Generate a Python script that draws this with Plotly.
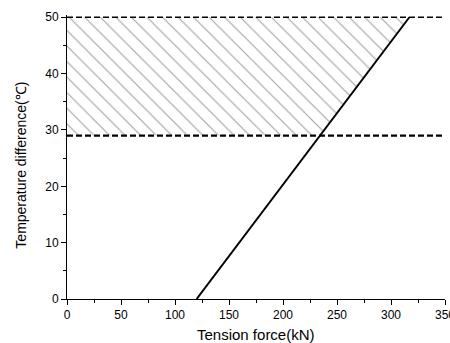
import plotly.graph_objects as go

# Data
line_x = [120, 317]
line_y = [0, 50]
lower_limit = 29
upper_limit = 50
x_max = 350
hatch_x = [0, 0, 317, 234, 0]
hatch_y = [29, 50, 50, 29, 29]
x_title = "Tension force(kN)"
y_title = "Temperature difference(℃)"

fig = go.Figure()

fig.add_trace(go.Scatter(
    x=hatch_x, y=hatch_y, mode="lines", fill="toself",
    line=dict(width=0, color="rgba(0,0,0,0)"),
    fillcolor="white",
    fillpattern=dict(shape="\\", fgcolor="#444444", bgcolor="white", size=11, solidity=0.1),
    hoverinfo="skip", showlegend=False))

fig.add_trace(go.Scatter(x=[0, x_max], y=[lower_limit, lower_limit], mode="lines",
                         line=dict(color="black", width=2.2, dash="6px,3px"), showlegend=False))
fig.add_trace(go.Scatter(x=[0, x_max], y=[upper_limit, upper_limit], mode="lines",
                         line=dict(color="black", width=1.5, dash="6px,3px"), showlegend=False))
fig.add_trace(go.Scatter(x=line_x, y=line_y, mode="lines",
                         line=dict(color="black", width=2), showlegend=False))

fig.update_layout(
    width=450, height=343,
    margin=dict(l=67, r=5, t=15, b=44),
    paper_bgcolor="white", plot_bgcolor="white",
    font=dict(family="Liberation Sans, Arial, sans-serif", color="black", size=12),
    showlegend=False,
    annotations=[
        dict(text=x_title, xref="paper", yref="paper", x=0.5, y=-0.125,
             xanchor="center", yanchor="middle", showarrow=False, font=dict(size=15)),
        dict(text=y_title, xref="paper", yref="paper", x=-0.124, y=0.47,
             xanchor="center", yanchor="middle", showarrow=False, textangle=-90,
             font=dict(size=14)),
    ],
)
fig.update_xaxes(
    range=[0, 350], tickvals=[0, 50, 100, 150, 200, 250, 300, 350],
    ticklabeloverflow="allow",
    showline=True, linecolor="black", linewidth=1, showgrid=False, zeroline=False,
    ticks="outside", ticklen=5, tickcolor="black",
    minor=dict(ticks="outside", ticklen=3, dtick=25, tick0=0, tickcolor="black", showgrid=False),
    automargin=False,
)
fig.update_yaxes(
    range=[0, 50.4], tickvals=[0, 10, 20, 30, 40, 50],
    showline=True, linecolor="black", linewidth=1, showgrid=False, zeroline=False,
    ticks="outside", ticklen=5, tickcolor="black",
    minor=dict(ticks="outside", ticklen=3, dtick=5, tick0=0, tickcolor="black", showgrid=False),
    automargin=False,
)

fig.write_html("out.html")
